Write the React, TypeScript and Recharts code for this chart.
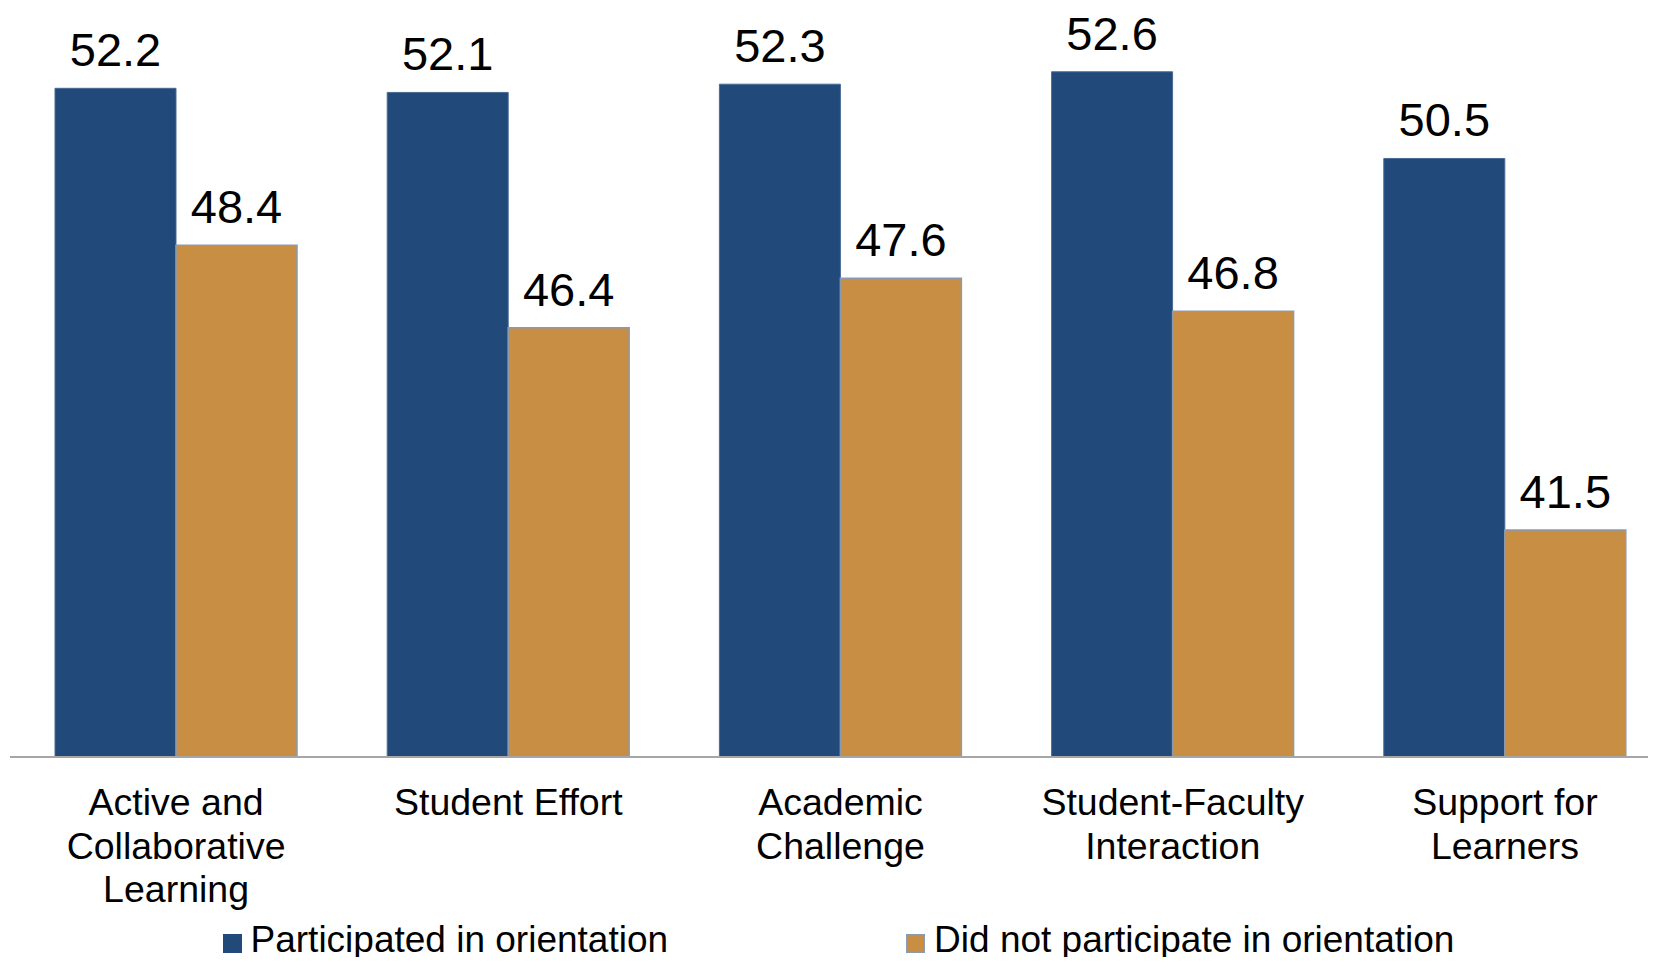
import { BarChart, Bar, XAxis, YAxis, Legend, LabelList } from 'recharts';

const categoryLines: string[][] = [
    ['Active and', 'Collaborative', 'Learning'],
    ['Student Effort'],
    ['Academic', 'Challenge'],
    ['Student-Faculty', 'Interaction'],
    ['Support for', 'Learners'],
];
const participated = [52.2, 52.1, 52.3, 52.6, 50.5];
const notParticipated = [48.4, 46.4, 47.6, 46.8, 41.5];

const seriesNames = ['Participated in orientation', 'Did not participate in orientation'];

const data = categoryLines.map((lines, i) => ({
    name: lines.join(' '),
    participated: participated[i],
    notParticipated: notParticipated[i],
}));

const FONT = '"Liberation Sans", Arial, sans-serif';

const CategoryTick = (props: any) => {
    const { x, y, payload } = props;
    const lines = categoryLines[payload.index] || [String(payload.value)];
    return (
        <g>
            {lines.map((line, i) => (
                <text
                    key={i}
                    x={x}
                    y={y + 58 + i * 43.5}
                    textAnchor="middle"
                    fontSize={37.5}
                    fontFamily={FONT}
                    fill="#000"
                >
                    {line}
                </text>
            ))}
        </g>
    );
};

const LegendContent = (props: any) => {
    const items = [...(props.payload || [])].sort(
        (a: any, b: any) => seriesNames.indexOf(a.value) - seriesNames.indexOf(b.value)
    );
    return (
        <div
            style={{
                display: 'flex',
                justifyContent: 'center',
                gap: 238,
                height: 40,
                alignItems: 'center',
                marginLeft: -4,
                position: 'relative',
                top: -5,
            }}
        >
            {items.map((entry: any) => (
                <div key={entry.value} style={{ display: 'flex', alignItems: 'center' }}>
                    <span
                        style={{
                            width: 19,
                            height: 19,
                            background: entry.color,
                            boxSizing: 'border-box',
                            border: entry.dataKey === 'notParticipated' ? '1.5px solid #8a9bb0' : 'none',
                            marginRight: 9,
                            marginTop: 6,
                            display: 'inline-block',
                        }}
                    />
                    <span style={{ fontSize: 37, fontFamily: FONT, color: '#000', lineHeight: '40px' }}>
                        {entry.value}
                    </span>
                </div>
            ))}
        </div>
    );
};

export default function App() {
    return (
        <div style={{ width: 1656, height: 965, overflow: 'hidden', margin: -8, background: '#fff' }}>
            <BarChart
                width={1680}
                height={965}
                data={data}
                margin={{ top: 14, right: 9, left: 10, bottom: 0 }}
                barGap={0}
            >
                <XAxis
                    dataKey="name"
                    interval={0}
                    tickLine={false}
                    tickSize={0}
                    tickMargin={0}
                    height={168}
                    axisLine={{ stroke: '#a6a6a6', strokeWidth: 2 }}
                    tick={<CategoryTick />}
                />
                <YAxis hide domain={[36, 54]} allowDataOverflow />
                <Legend verticalAlign="bottom" content={<LegendContent />} />
                <Bar
                    dataKey="participated"
                    name={seriesNames[0]}
                    fill="#21497a"
                    stroke="#4a6a93"
                    strokeWidth={1}
                    barSize={121}
                    isAnimationActive={false}
                >
                    <LabelList
                        dataKey="participated"
                        position="top"
                        offset={22}
                        fill="#000"
                        fontSize={47}
                        fontFamily={FONT}
                    />
                </Bar>
                <Bar
                    dataKey="notParticipated"
                    name={seriesNames[1]}
                    fill="#c78e44"
                    stroke="#8a9bb0"
                    strokeWidth={1.5}
                    barSize={121}
                    isAnimationActive={false}
                >
                    <LabelList
                        dataKey="notParticipated"
                        position="top"
                        offset={22}
                        fill="#000"
                        fontSize={47}
                        fontFamily={FONT}
                    />
                </Bar>
            </BarChart>
        </div>
    );
}
